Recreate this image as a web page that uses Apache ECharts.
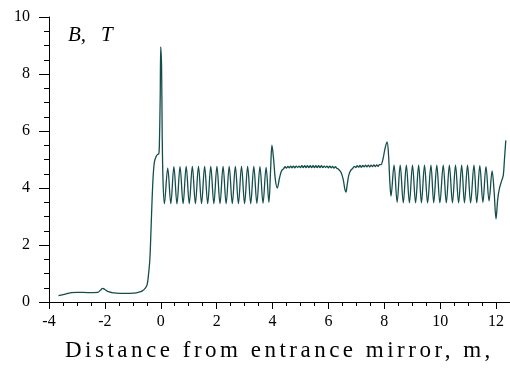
<!DOCTYPE html>
<html>
<head>
<meta charset="utf-8">
<script src="https://cdn.jsdelivr.net/npm/echarts@6/dist/echarts.min.js"></script>
<style>
  html, body {margin: 0; padding: 0; background: #fff;}
  #wrap {position: relative; width: 510px; height: 369px;}
  #chart {width: 510px; height: 369px;}
  #xname {
    position: absolute; left: 65px; top: 338px;
    font: 23px/23px "Liberation Serif", serif; letter-spacing: 3.5px;
    color: #000; white-space: nowrap;
  }
</style>
</head>
<body>
<div id="wrap">
  <div id="chart"></div>
  <div id="xname">Distance from entrance mirror, m,</div>
</div>
<script>
// field along the axis, [distance m, B T]
const approach = [
  [-3.66, 0.22], [-3.45, 0.27], [-3.2, 0.33], [-3.0, 0.34], [-2.6, 0.33], [-2.26, 0.34],
  [-2.15, 0.42], [-2.08, 0.48], [-2.0, 0.44], [-1.9, 0.37], [-1.75, 0.33], [-1.6, 0.31],
  [-1.3, 0.30], [-0.96, 0.31], [-0.8, 0.34], [-0.66, 0.39], [-0.56, 0.48], [-0.49, 0.6],
  [-0.44, 0.95], [-0.39, 1.5], [-0.35, 2.5], [-0.31, 3.6], [-0.27, 4.45], [-0.23, 4.9],
  [-0.17, 5.1], [-0.11, 5.18], [-0.07, 5.2]
];
const mirrorPeak = [
  [-0.05, 5.5], [-0.02, 7.2], [0.0, 8.95], [0.03, 8.2], [0.05, 6.0], [0.08, 4.3], [0.13, 3.45]
];
const coil1 = [
  [0.25, 4.7], [0.36, 3.45], [0.47, 4.75], [0.58, 3.44], [0.69, 4.75], [0.80, 3.45],
  [0.91, 4.76], [1.02, 3.45], [1.13, 4.76], [1.24, 3.45], [1.35, 4.76], [1.46, 3.45],
  [1.57, 4.76], [1.68, 3.45], [1.79, 4.76], [1.90, 3.45], [2.01, 4.76], [2.12, 3.45],
  [2.23, 4.76], [2.34, 3.45], [2.45, 4.76], [2.56, 3.45], [2.67, 4.76], [2.78, 3.45],
  [2.89, 4.76], [3.00, 3.45], [3.11, 4.76], [3.22, 3.45], [3.33, 4.76], [3.44, 3.46],
  [3.55, 4.75], [3.66, 3.47], [3.77, 4.72], [3.87, 3.5]
];
const bump1 = [
  [3.93, 4.6], [3.98, 5.5], [4.04, 5.0], [4.1, 4.3], [4.17, 4.0], [4.25, 4.35], [4.32, 4.6]
];
const flat1 = [
  [4.40, 4.68], [4.45, 4.75], [4.50, 4.70], [4.55, 4.76], [4.60, 4.71], [4.65, 4.77],
  [4.70, 4.71], [4.75, 4.77], [4.80, 4.71], [4.85, 4.77], [4.90, 4.72], [4.95, 4.77],
  [5.00, 4.72], [5.05, 4.78], [5.10, 4.72], [5.15, 4.78], [5.20, 4.72], [5.25, 4.78],
  [5.30, 4.72], [5.35, 4.78], [5.40, 4.72], [5.45, 4.78], [5.50, 4.72], [5.55, 4.78],
  [5.60, 4.72], [5.65, 4.78], [5.70, 4.72], [5.75, 4.78], [5.80, 4.72], [5.85, 4.77],
  [5.90, 4.72], [5.95, 4.77], [6.00, 4.71], [6.05, 4.77], [6.10, 4.71], [6.15, 4.76],
  [6.20, 4.70], [6.25, 4.75], [6.30, 4.69]
];
const dip = [
  [6.36, 4.66], [6.45, 4.55], [6.53, 4.3], [6.59, 3.95], [6.63, 3.86], [6.67, 4.1],
  [6.73, 4.45], [6.8, 4.62]
];
const flat2 = [
  [6.88, 4.70], [6.93, 4.76], [6.98, 4.72], [7.03, 4.78], [7.08, 4.73], [7.13, 4.79],
  [7.18, 4.73], [7.23, 4.79], [7.28, 4.74], [7.33, 4.80], [7.38, 4.74], [7.43, 4.80],
  [7.48, 4.74], [7.53, 4.80], [7.58, 4.75], [7.63, 4.81], [7.68, 4.75], [7.73, 4.81],
  [7.78, 4.76], [7.83, 4.82], [7.88, 4.82]
];
const bump2 = [
  [7.95, 5.0], [8.03, 5.4], [8.1, 5.62], [8.15, 5.2], [8.2, 4.2], [8.24, 3.72]
];
const coil2 = [
  [8.35, 4.8], [8.46, 3.5], [8.57, 4.8], [8.68, 3.48], [8.79, 4.8], [8.90, 3.48],
  [9.01, 4.8], [9.12, 3.48], [9.23, 4.8], [9.33, 3.48], [9.44, 4.8], [9.55, 3.48],
  [9.67, 4.8], [9.77, 3.48], [9.88, 4.8], [9.99, 3.48], [10.11, 4.8], [10.22, 3.48],
  [10.33, 4.8], [10.44, 3.48], [10.55, 4.8], [10.66, 3.48], [10.77, 4.8], [10.87, 3.48],
  [10.98, 4.8], [11.09, 3.48], [11.21, 4.8], [11.31, 3.48], [11.42, 4.78], [11.53, 3.5],
  [11.64, 4.75], [11.75, 3.55], [11.86, 4.6]
];
const exitEnd = [
  [11.93, 3.9], [12.0, 2.92], [12.06, 3.6], [12.12, 3.98], [12.2, 4.25], [12.26, 4.45],
  [12.3, 4.98], [12.35, 5.67]
];

const xTicks = [-4, -2, 0, 2, 4, 6, 8, 10, 12];
const yTicks = [0, 2, 4, 6, 8, 10];

const field = [].concat(approach, mirrorPeak, coil1, bump1, flat1, dip, flat2, bump2, coil2, exitEnd);

const serif = 'Liberation Serif';
const chart = echarts.init(document.getElementById('chart'), null, {renderer: 'canvas'});

chart.setOption({
  animation: false,
  backgroundColor: '#fff',
  grid: {left: 49, right: -4, top: 17, bottom: 67},
  xAxis: {
    type: 'value',
    min: xTicks[0],
    max: 12.5,
    interval: 2,
    axisLine: {onZero: false, lineStyle: {color: '#000', width: 1}},
    axisTick: {length: 7, lineStyle: {color: '#000'}},
    minorTick: {show: true, splitNumber: 4, length: 4, lineStyle: {color: '#000'}},
    splitLine: {show: false},
    axisLabel: {
      color: '#000', fontFamily: serif, fontSize: 16, margin: 12,
      showMaxLabel: false,
      formatter: v => xTicks.includes(v) ? String(v) : ''
    }
  },
  yAxis: {
    type: 'value',
    min: yTicks[0],
    max: yTicks[yTicks.length - 1],
    interval: 2,
    axisLine: {show: true, onZero: false, lineStyle: {color: '#000', width: 1}},
    axisTick: {length: 10, lineStyle: {color: '#000'}},
    minorTick: {show: true, splitNumber: 4, length: 5, lineStyle: {color: '#000'}},
    splitLine: {show: false},
    axisLabel: {color: '#000', fontFamily: serif, fontSize: 16, margin: 19}
  },
  graphic: [{
    type: 'text',
    left: 68,
    top: 25,
    style: {
      text: 'B,{s| }T',
      fill: '#000',
      fontFamily: serif,
      fontStyle: 'italic',
      fontSize: 21,
      rich: {s: {width: 15, fontFamily: serif, fontStyle: 'italic', fontSize: 21}}
    }
  }],
  series: [{
    type: 'line',
    data: field,
    showSymbol: false,
    smooth: 0.35,
    lineStyle: {color: '#154d4d', width: 1.3}
  }]
});
</script>
</body>
</html>
